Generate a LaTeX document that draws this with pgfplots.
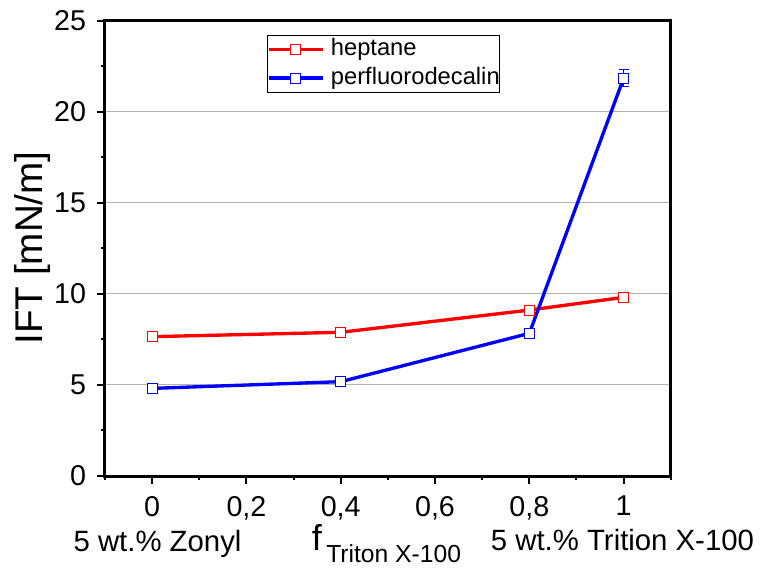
\documentclass[border=0pt]{standalone}
\usepackage{fontspec}
\setmainfont{Liberation Sans}
\usepackage{pgfplots}
\pgfplotsset{compat=1.18}
\begin{document}
\begin{tikzpicture}
\useasboundingbox (-78.75pt,-68.25pt) rectangle (493.5pt,357pt);
\begin{axis}[
  at={(0pt,0pt)}, anchor=south west,
  scale only axis, width=424.3pt, height=341.5pt,
  xmin=-0.1, xmax=1.1, ymin=0, ymax=25,
  axis line style={line width=2.25pt, black},
  xtick={0,0.2,0.4,0.6,0.8,1},
  xticklabels={0,{0,2},{0,4},{0,6},{0,8},1},
  minor xtick={-0.1,0.1,0.3,0.5,0.7,0.9,1.1},
  ytick={0,5,10,15,20,25},
  minor ytick={2.5,7.5,12.5,17.5,22.5},
  xtick pos=left, ytick pos=left,
  tick align=outside,
  major tick length=6pt, minor tick length=3pt,
  every tick/.style={black, line width=1.5pt},
  ymajorgrids, grid style={gray!60, line width=0.75pt},
  tick label style={font=\fontsize{21.5}{25}\selectfont, inner sep=0pt},
  /pgf/number format/assume math mode=true,
  xticklabel shift=9pt, yticklabel shift=8pt,
  legend style={at={(0.2864,0.9686)}, anchor=north west, draw=black, line width=0.75pt,
    inner xsep=0pt, inner ysep=2pt, font=\fontsize{17.8}{21.5}\selectfont,
    nodes={inner sep=0pt, text height=13pt, text depth=4pt}, row sep=4.5pt, column sep=5pt},
  legend cell align=left,
  legend image code/.code={\draw[mark repeat=2,mark phase=2,#1] plot coordinates {(0pt,0pt) (20pt,0pt) (40pt,0pt)};},
]
\addplot[red, line width=2.5pt, mark=square*, mark size=3.7pt,
  mark options={fill=white, solid, line width=0.75pt},
  error bars/.cd, y dir=both, y explicit,
  error mark options={rotate=90, mark size=3.7pt, line width=0.75pt, red}, error bar style={line width=0.75pt}]
  coordinates {(0,7.65) +- (0,0.12) (0.4,7.89) +- (0,0.15) (0.8,9.11) +- (0,0.1) (1,9.81) +- (0,0.12)};
\addlegendentry{heptane}
\addplot[blue, line width=2.5pt, mark=square*, mark size=3.7pt,
  mark options={fill=white, solid, line width=0.75pt},
  error bars/.cd, y dir=both, y explicit,
  error mark options={rotate=90, mark size=3.7pt, line width=0.75pt, blue}, error bar style={line width=0.75pt}]
  coordinates {(0,4.81) +- (0,0.05) (0.4,5.18) +- (0,0.15) (0.8,7.83) +- (0,0.1) (1,21.84) +- (0,0.48)};
\addlegendentry{perfluorodecalin}
\end{axis}
\node[rotate=90, font=\fontsize{29}{34}\selectfont, inner sep=0pt] at (-54pt,171pt) {IFT [mN/m]};
\node[anchor=base, font=\fontsize{22}{26}\selectfont, inner sep=0pt] at (39.4pt,-56.25pt) {5 wt.\% Zonyl};
\node[anchor=base west, font=\fontsize{27}{30}\selectfont, inner sep=0pt] at (155pt,-55.5pt) {f};
\node[anchor=base west, font=\fontsize{18.5}{22}\selectfont, inner sep=0pt] at (165.75pt,-65pt) {Triton X-100};
\node[anchor=base, font=\fontsize{22}{26}\selectfont, inner sep=0pt] at (388.1pt,-56pt) {5 wt.\% Trition X-100};
\end{tikzpicture}
\end{document}
